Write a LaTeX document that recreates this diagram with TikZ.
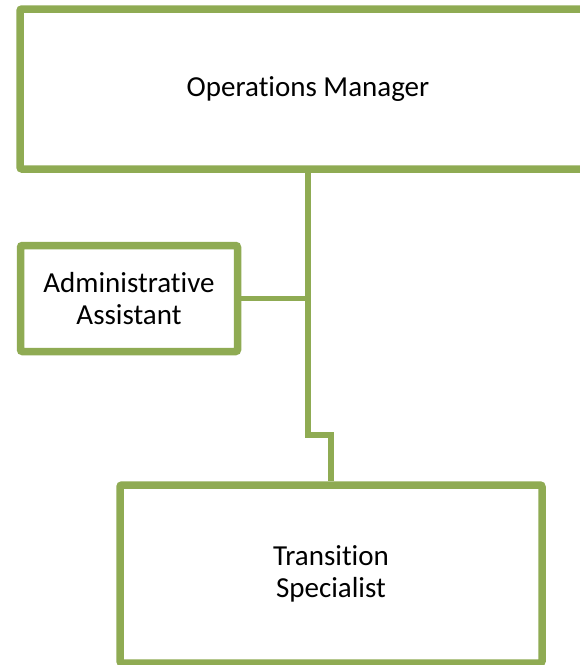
\documentclass[tikz,border=0pt]{standalone}
\usepackage{fontspec}
\setmainfont{Carlito}[Ligatures=NoCommon]
\usetikzlibrary{shadows}

\definecolor{boxgreen}{RGB}{143,171,83}

\tikzset{every picture/.style={line width=0.75pt}}
\tikzset{
	orgbox/.style={draw=boxgreen, line width=7.5pt, fill=white, rounded corners=2pt,
		align=center, inner sep=0pt, font=\fontsize{29}{32}\selectfont,
		drop shadow={opacity=0.18, shadow xshift=2pt, shadow yshift=-3pt}},
	orgline/.style={draw=boxgreen, line width=5.5pt}}

\begin{document}
\begin{tikzpicture}[x=1pt,y=1pt,yscale=-1,xscale=1]
	\clip (0,0) rectangle (580,665);
	\useasboundingbox (0,0) rectangle (580,665);

	%Shape: Rectangle [ops]
	\node [orgbox, minimum width=576, minimum height=160] (ops) at (308,89) {Operations Manager};
	%Shape: Rectangle [admin]
	\node [orgbox, minimum width=217, minimum height=106] (admin) at (129,298.5) {Administrative\\Assistant};
	%Shape: Rectangle [spec]
	\node [orgbox, minimum width=422, minimum height=178] (spec) at (331,574) {Transition\\Specialist};

	%Straight Lines
	\coordinate (bend) at (ops.south |- 0,435);
	\draw [orgline] (ops.south) -- (bend) -| (spec.north);
	\draw [orgline] (admin.east) -- (admin.east -| ops.south);

\end{tikzpicture}
\end{document}
